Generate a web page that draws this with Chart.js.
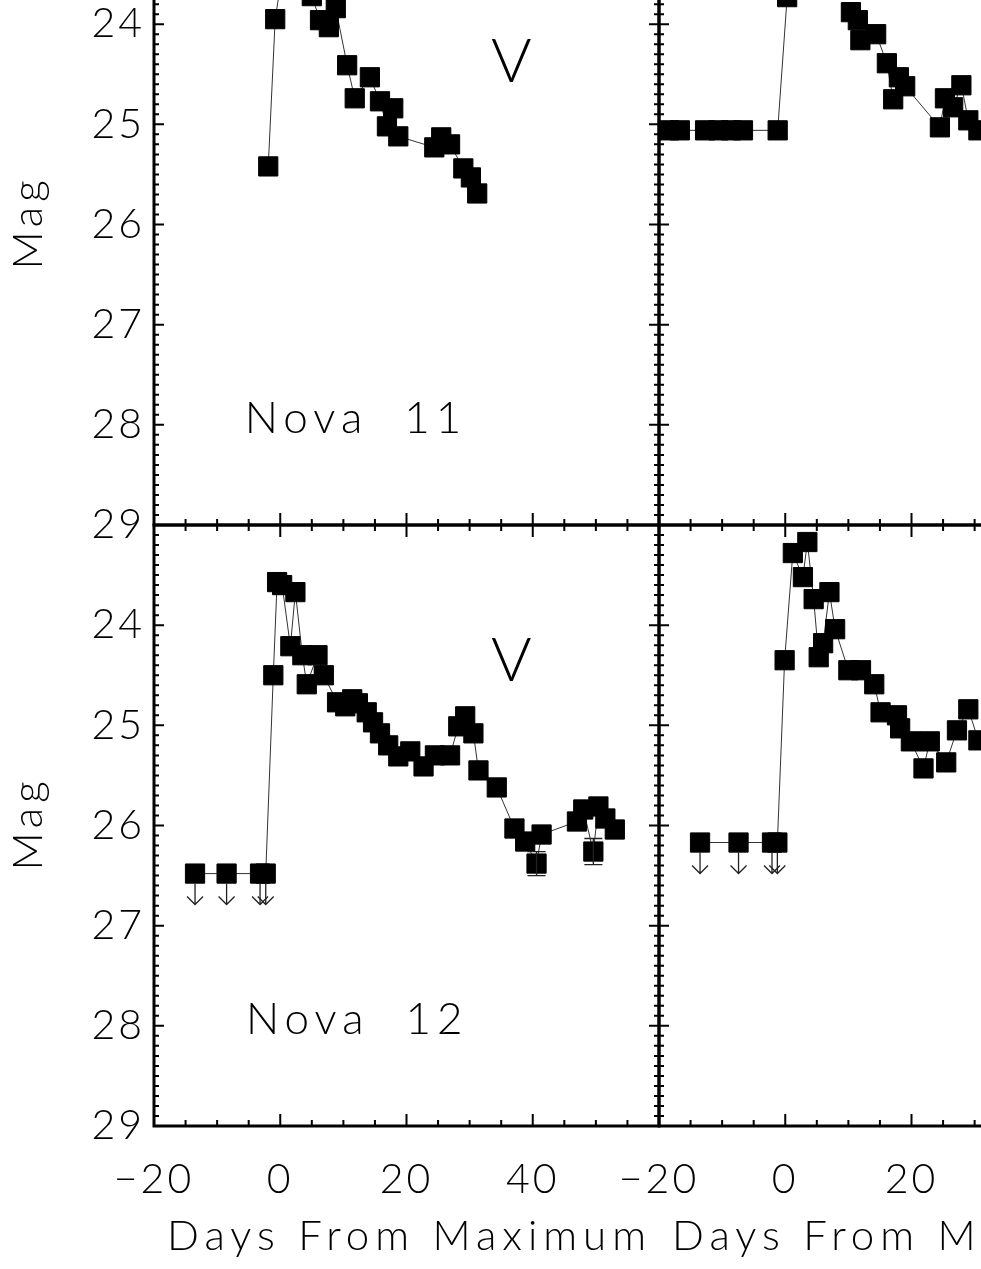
<!DOCTYPE html>
<html><head><meta charset="utf-8">
<script src="https://cdn.jsdelivr.net/npm/chart.js@4.4.1/dist/chart.umd.min.js"></script>
<style>
html,body{margin:0;padding:0;background:#fff;width:981px;height:1269px;overflow:hidden;position:relative}
canvas{position:absolute}
</style></head><body>
<canvas id="cTL"></canvas><canvas id="cTR"></canvas><canvas id="cBL"></canvas><canvas id="cBR"></canvas>
<script>
// ---------- DATA ----------
const xTickValues = [-20, 0, 20, 40, 60];
const yTickValues = [23, 24, 25, 26, 27, 28, 29];
const xTitle = 'Days From Maximum';
const yTitle = 'Mag';

// Nova 11 (top-left)
const n11Days = [-1.9, -0.8, 0.3, 5.0, 6.3, 7.7, 8.8, 10.6, 11.8, 14.2, 15.8, 16.9, 17.9, 18.7, 24.4, 25.5, 26.9, 29.0, 30.2, 31.2];
const n11Mags = [25.42, 23.95, 23.5, 23.72, 23.96, 24.03, 23.84, 24.41, 24.74, 24.53, 24.77, 25.02, 24.84, 25.12, 25.23, 25.13, 25.20, 25.44, 25.53, 25.69];

// top-right panel
const trDays = [-18.4, -16.7, -12.7, -10.6, -8.6, -6.7, -1.2, 0.3, 5.0, 10.4, 11.5, 11.9, 14.4, 16.1, 17.1, 18.0, 19.0, 24.5, 25.3, 26.6, 27.9, 29.0, 30.6];
const trMags = [25.06, 25.06, 25.06, 25.06, 25.06, 25.06, 25.06, 23.73, null, 23.88, 23.96, 24.16, 24.10, 24.39, 24.75, 24.53, 24.62, 25.03, 24.74, 24.83, 24.61, 24.96, 25.06];

// Nova 12 (bottom-left)
const n12Days = [-13.5, -8.5, -3.2, -2.3, -1.1, -0.5, 0.3, 1.6, 2.4, 3.5, 4.2, 5.9, 6.9, 9.0, 10.3, 11.4, 12.3, 13.7, 14.7, 15.8, 17.1, 18.7, 20.6, 22.7, 24.5, 26.9, 28.2, 29.3, 30.6, 31.4, 34.3, 37.1, 38.8, 40.6, 41.4, 47.0, 48.0, 49.6, 50.4, 51.5, 53.0];
const n12Mags = [26.48, 26.48, 26.48, 26.48, 24.50, 23.57, 23.60, 24.21, 23.67, 24.30, 24.59, 24.30, 24.50, 24.77, 24.81, 24.74, 24.78, 24.87, 24.97, 25.08, 25.20, 25.31, 25.26, 25.41, 25.30, 25.30, 25.01, 24.91, 25.08, 25.45, 25.62, 26.03, 26.16, 26.38, 26.09, 25.96, 25.84, 26.26, 25.81, 25.93, 26.04];
const n12LimitIdx = [0, 1, 2, 3];
const n12ErrIdx = [33, 37];
const n12ErrSize = [0.12, 0.13];

// bottom-right panel
const brDays = [-13.5, -7.4, -2.1, -1.25, -0.1, 1.2, 2.8, 3.5, 4.5, 5.3, 6.0, 7.0, 7.9, 10.0, 12.0, 14.1, 15.1, 17.7, 18.2, 19.9, 21.9, 22.9, 25.5, 27.2, 29.0, 30.6];
const brMags = [26.17, 26.17, 26.17, 26.17, 24.35, 23.28, 23.52, 23.17, 23.74, 24.32, 24.18, 23.67, 24.04, 24.45, 24.45, 24.59, 24.87, 24.90, 25.03, 25.16, 25.43, 25.16, 25.37, 25.05, 24.84, 25.15];
const brLimitIdx = [0, 1, 2, 3];

// ---------- STYLE / LAYOUT ----------
const FONT = 'Lato, "Liberation Sans", sans-serif';
const fnt = (s) => ({ family: FONT, size: s, weight: '300' });

const framePlugin = {
  id: 'frame',
  beforeDraw(chart) { chart.ctx.letterSpacing = '3px'; },
  afterDraw(chart, args, o) {
    const { ctx, chartArea: a, scales: { x, y } } = chart;
    const pts = chart.data.datasets[0].data;
    ctx.save();
    ctx.strokeStyle = '#222';
    ctx.lineWidth = 1.3;
    // upper-limit arrows
    (o.limits || []).forEach(i => {
      const px = x.getPixelForValue(pts[i].x), py = y.getPixelForValue(pts[i].y);
      ctx.beginPath();
      ctx.moveTo(px, py + 10); ctx.lineTo(px, py + 31);
      ctx.moveTo(px - 8, py + 23); ctx.lineTo(px, py + 31); ctx.lineTo(px + 8, py + 23);
      ctx.stroke();
    });
    // error bars
    (o.errIdx || []).forEach((i, k) => {
      const e = o.errSize[k];
      const px = x.getPixelForValue(pts[i].x);
      const p1 = y.getPixelForValue(pts[i].y - e), p2 = y.getPixelForValue(pts[i].y + e);
      ctx.beginPath();
      ctx.moveTo(px, p1); ctx.lineTo(px, p2);
      ctx.moveTo(px - 9, p1); ctx.lineTo(px + 9, p1);
      ctx.moveTo(px - 9, p2); ctx.lineTo(px + 9, p2);
      ctx.stroke();
    });
    // ticks (inward, minor every 5 days / 0.1 mag)
    ctx.strokeStyle = '#000';
    ctx.lineWidth = 2;
    ctx.beginPath();
    for (let d = -20; d <= 60; d += 5) {
      const px = x.getPixelForValue(d);
      const len = d % 20 === 0 ? 12 : 6;
      ctx.moveTo(px, a.bottom); ctx.lineTo(px, a.bottom - len);
      ctx.moveTo(px, a.top); ctx.lineTo(px, a.top + len);
    }
    for (let i = 0; i <= 60; i++) {
      const py = y.getPixelForValue(23 + i / 10);
      const len = i % 10 === 0 ? 10 : 5;
      ctx.moveTo(a.left, py); ctx.lineTo(a.left + len, py);
      ctx.moveTo(a.right, py); ctx.lineTo(a.right - len, py);
    }
    ctx.stroke();
    ctx.lineWidth = 3;
    ctx.strokeRect(a.left, a.top, a.right - a.left, a.bottom - a.top);
    // axis titles and annotations
    ctx.fillStyle = '#000';
    ctx.textAlign = 'center';
    ctx.textBaseline = 'alphabetic';
    if (o.yTitle) {
      ctx.save();
      ctx.font = '300 42px ' + FONT;
      ctx.letterSpacing = '5px';
      ctx.translate(a.left - 112, (a.top + a.bottom) / 2);
      ctx.rotate(-Math.PI / 2);
      ctx.fillText(o.yTitle, 2, 0);
      ctx.restore();
    }
    if (o.xTitle) {
      ctx.font = '300 42px ' + FONT;
      ctx.letterSpacing = '6px';
      ctx.fillText(o.xTitle, (a.left + a.right) / 2 + 3, a.bottom + 124);
    }
    ctx.textBaseline = 'middle';
    (o.notes || []).forEach(n => {
      ctx.font = '300 ' + n.size + 'px ' + FONT;
      ctx.letterSpacing = n.ls + 'px';
      ctx.fillText(n.text, x.getPixelForValue(n.x), y.getPixelForValue(n.y));
    });
    ctx.restore();
  }
};

// page geometry of plot areas
const X0 = 154, XM = 659, XR = 1164, YT = -76, YM = 525, YB = 1126;

function makePanel(id, days, mags, p) {
  const cv = document.getElementById(id);
  cv.width = p.w; cv.height = p.h;
  cv.style.left = p.left + 'px'; cv.style.top = p.top + 'px';
  cv.style.width = p.w + 'px'; cv.style.height = p.h + 'px';
  const l = p.al - p.left, t = p.at - p.top, r = p.ar - p.left, b = p.ab - p.top;
  const points = days.map((d, i) => ({ x: d, y: mags[i] }));
  new Chart(cv, {
    type: 'line',
    data: { datasets: [{
      data: points,
      borderColor: '#333', borderWidth: 1, tension: 0, spanGaps: false,
      pointStyle: 'rect', pointRadius: 13.6, pointHoverRadius: 13.6,
      pointBackgroundColor: '#000', pointBorderColor: '#000', pointBorderWidth: 1
    }] },
    options: {
      responsive: false, animation: false, devicePixelRatio: 1,
      events: [],
      layout: { autoPadding: false, padding: { left: 0, top: t, right: p.w - r, bottom: 0 } },
      plugins: {
        legend: { display: false }, tooltip: { enabled: false },
        frame: { limits: p.limits, errIdx: p.errIdx, errSize: p.errSize, notes: p.notes,
                 xTitle: p.xLabels ? xTitle : null, yTitle: p.yLabels ? yTitle : null }
      },
      scales: {
        x: {
          type: 'linear', min: -20, max: 60,
          afterBuildTicks: s => { s.ticks = xTickValues.map(v => ({ value: v })); },
          afterFit: s => { s.height = p.h - b; s.paddingLeft = s.paddingRight = s.paddingTop = s.paddingBottom = 0; },
          grid: { display: false, drawTicks: false }, border: { display: false },
          ticks: {
            display: p.xLabels, autoSkip: false, maxRotation: 0, minRotation: 0, padding: 29,
            color: '#000', font: fnt(41),
            callback: v => (p.hideX60 && v === 60) ? '' : (v < 0 ? '\u2212' + Math.abs(v) : String(v))
          },
          title: { display: false }
        },
        y: {
          type: 'linear', min: 23, max: 29, reverse: true,
          afterBuildTicks: s => { s.ticks = yTickValues.map(v => ({ value: v })); },
          afterFit: s => { s.width = l; s.paddingLeft = s.paddingRight = s.paddingTop = s.paddingBottom = 0; },
          grid: { display: false, drawTicks: false }, border: { display: false },
          ticks: {
            display: p.yLabels, padding: 9, color: '#000', font: fnt(41),
            callback: v => v === 23 ? '' : String(v)
          },
          title: { display: false }
        }
      }
    },
    plugins: [framePlugin]
  });
}

makePanel('cTL', n11Days, n11Mags, {
  left: 0, top: -92, w: 680, h: 660, al: X0, at: YT, ar: XM, ab: YM,
  xLabels: false, yLabels: true,
  notes: [{ text: 'V', x: 36.6, y: 24.38, size: 62, ls: 0 }, { text: 'Nova  11', x: 12.0, y: 27.94, size: 44, ls: 6 }]
});
makePanel('cTR', trDays, trMags, {
  left: 560, top: -92, w: 620, h: 660, al: XM, at: YT, ar: XR, ab: YM,
  xLabels: false, yLabels: false
});
makePanel('cBL', n12Days, n12Mags, {
  left: 0, top: 508, w: 680, h: 761, al: X0, at: YM, ar: XM, ab: YB,
  xLabels: true, yLabels: true, hideX60: true,
  limits: n12LimitIdx, errIdx: n12ErrIdx, errSize: n12ErrSize,
  notes: [{ text: 'V', x: 36.6, y: 24.36, size: 62, ls: 0 }, { text: 'Nova  12', x: 12.2, y: 27.94, size: 44, ls: 6 }]
});
makePanel('cBR', brDays, brMags, {
  left: 560, top: 508, w: 620, h: 761, al: XM, at: YM, ar: XR, ab: YB,
  xLabels: true, yLabels: false, limits: brLimitIdx
});
</script>
</body></html>
